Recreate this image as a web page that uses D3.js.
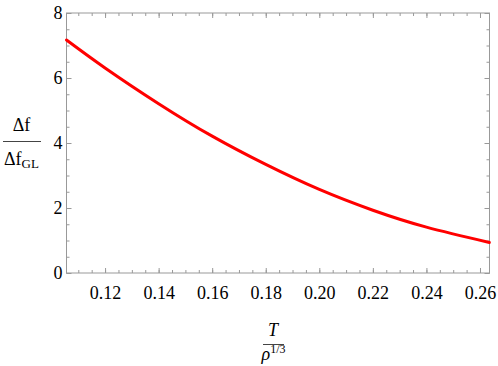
<!DOCTYPE html>
<html>
<head>
	<style>
		html, body { margin: 0; background: white; }
		svg { display: block; }
		svg text { font-family: "Liberation Serif", "Times New Roman", Times, "DejaVu Serif", serif; }
	</style>
	<script src="https://cdn.jsdelivr.net/npm/d3@7/dist/d3.min.js"></script>
</head>
<body>
	<svg id="svg" width="498" height="366"></svg>
	<script>
		// curve: T / rho^(1/3) vs delta f / delta f_GL
		const tVals = [0.1056, 0.12, 0.14, 0.16, 0.18, 0.20, 0.22, 0.24, 0.2635];
		const ratioVals = [7.17, 6.31, 5.21, 4.21, 3.34, 2.57, 1.93, 1.41, 0.94];
		const xTicks = [0.12, 0.14, 0.16, 0.18, 0.20, 0.22, 0.24, 0.26];
		const yTicks = [0, 2, 4, 6, 8];

		const FRAME = '#999';
		const svg = d3.select('#svg'),
			plotL = 66.5, plotR = 489.5, plotT = 13, plotB = 273;

		const x = d3.scaleLinear().domain([0.1056, 0.26355]).range([plotL, plotR]);
		const y = d3.scaleLinear().domain([0, 8]).range([plotB, plotT]);

		const xMinor = d3.range(0.105, 0.2636, 0.005).filter(v => x(v) >= plotL - 0.1 && x(v) <= plotR + 0.1);
		const yMinor = d3.range(0, 8.01, 0.5);

		// ticks on all four sides, labels only on left and bottom
		function styleAxis(g) {
			g.attr('font-family', null).attr('font-size', null);
			g.select('.domain').remove();
			g.selectAll('line').attr('stroke', FRAME);
			g.selectAll('text').attr('fill', 'black').style('font-size', '18px');
		}

		svg.append('g').attr('transform', `translate(0,${plotB})`)
			.call(d3.axisBottom(x).tickValues(xMinor).tickSize(-3).tickFormat(''))
			.call(styleAxis);
		svg.append('g').attr('transform', `translate(0,${plotB})`)
			.call(d3.axisBottom(x).tickValues(xTicks).tickSize(-5).tickPadding(13).tickFormat(d3.format('.2f')))
			.call(styleAxis);
		svg.append('g').attr('transform', `translate(0,${plotT})`)
			.call(d3.axisTop(x).tickValues(xMinor).tickSize(-3).tickFormat(''))
			.call(styleAxis);
		svg.append('g').attr('transform', `translate(0,${plotT})`)
			.call(d3.axisTop(x).tickValues(xTicks).tickSize(-5).tickFormat(''))
			.call(styleAxis);

		svg.append('g').attr('transform', `translate(${plotL},0)`)
			.call(d3.axisLeft(y).tickValues(yMinor).tickSize(-3).tickFormat(''))
			.call(styleAxis);
		svg.append('g').attr('transform', `translate(${plotL},0)`)
			.call(d3.axisLeft(y).tickValues(yTicks).tickSize(-5).tickPadding(4).tickFormat(d3.format('d')))
			.call(styleAxis);
		svg.append('g').attr('transform', `translate(${plotR},0)`)
			.call(d3.axisRight(y).tickValues(yMinor).tickSize(-3).tickFormat(''))
			.call(styleAxis);
		svg.append('g').attr('transform', `translate(${plotR},0)`)
			.call(d3.axisRight(y).tickValues(yTicks).tickSize(-5).tickFormat(''))
			.call(styleAxis);

		// frame
		svg.append('rect')
			.attr('x', plotL).attr('y', plotT)
			.attr('width', plotR - plotL).attr('height', plotB - plotT)
			.attr('fill', 'none').attr('stroke', FRAME);

		// curve
		const line = d3.line()
			.x((d, i) => x(d))
			.y((d, i) => y(ratioVals[i]))
			.curve(d3.curveNatural);

		svg.append('path')
			.datum(tVals)
			.attr('d', line)
			.attr('fill', 'none')
			.attr('stroke', '#ff0000')
			.attr('stroke-width', 3)
			.attr('stroke-linecap', 'round');

		// y label: delta f over delta f_GL
		const yl = svg.append('g').attr('font-size', 18);
		yl.append('text').attr('x', 21.5).attr('y', 131).attr('text-anchor', 'middle').text('Δf');
		yl.append('line').attr('x1', 3).attr('x2', 41).attr('y1', 141.5).attr('y2', 141.5)
			.attr('stroke', '#444').attr('stroke-width', 1);
		const den = yl.append('text').attr('x', 21.5).attr('y', 165).attr('text-anchor', 'middle');
		den.append('tspan').text('Δf');
		den.append('tspan').attr('font-size', 13).attr('dy', 3).text('GL');

		// x label: T over rho^(1/3)
		const xl = svg.append('g').attr('font-size', 18);
		xl.append('text').attr('x', 273).attr('y', 336).attr('text-anchor', 'middle')
			.attr('font-style', 'italic').text('T');
		xl.append('line').attr('x1', 263).attr('x2', 284).attr('y1', 344.5).attr('y2', 344.5)
			.attr('stroke', '#444').attr('stroke-width', 1);
		const rho = xl.append('text').attr('x', 273.5).attr('y', 360).attr('text-anchor', 'middle');
		rho.append('tspan').attr('font-style', 'italic').text('ρ');
		rho.append('tspan').attr('font-size', 12).attr('dy', -7).text('1/3');
	</script>
</body>
</html>
